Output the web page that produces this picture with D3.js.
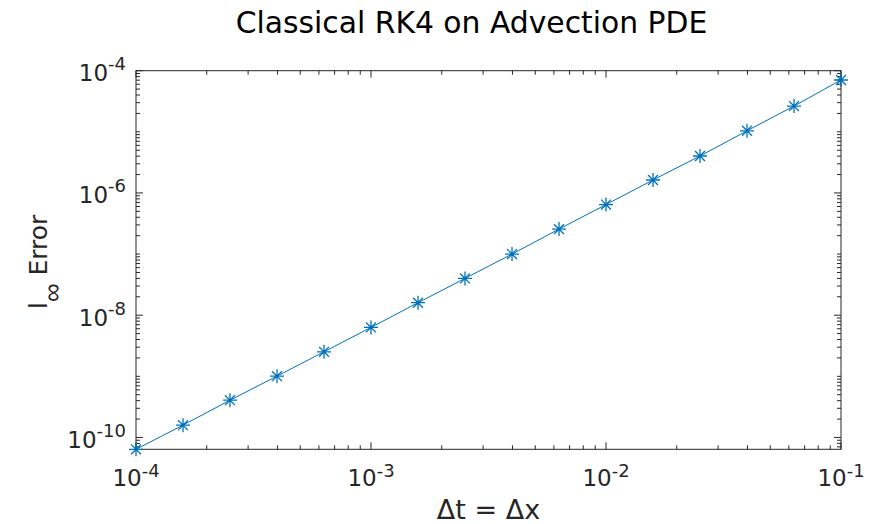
<!DOCTYPE html>
<html>
<head>
<meta charset="utf-8">
<script src="https://cdn.jsdelivr.net/npm/d3@7"></script>
<style>
  html, body { margin: 0; padding: 0; background: #fff; }
  svg { display: block; font-family: "DejaVu Sans", sans-serif; }
</style>
</head>
<body>
<svg id="chart" width="887" height="524"></svg>
<script>
// ---- data ----
const dtValues = [1e-4, 1.585e-4, 2.512e-4, 3.981e-4, 6.310e-4,
                  1e-3, 1.585e-3, 2.512e-3, 3.981e-3, 6.310e-3,
                  1e-2, 1.585e-2, 2.512e-2, 3.981e-2, 6.310e-2, 1e-1];
const errValues = [6.4e-11, 1.59e-10, 4.07e-10, 1.007e-9, 2.52e-9,
                   6.31e-9, 1.60e-8, 4.00e-8, 1.00e-7, 2.56e-7,
                   6.46e-7, 1.63e-6, 4.02e-6, 1.04e-5, 2.64e-5, 7.05e-5];
const xTickExps = [-4, -3, -2, -1];
const yTickExps = [-10, -8, -6, -4];
const yUpper = 1e-4;
const titleText = "Classical RK4 on Advection PDE";
const xLabelText = "\u0394t = \u0394x";

// ---- layout ----
const svg = d3.select("#chart");
const L = 136, R = 841, T = 70.7, B = 449.3;
const axisColor = "#262626";
const lineColor = "#0072BD";

const x = d3.scaleLog().domain([d3.min(dtValues), d3.max(dtValues)]).range([L, R]);
const y = d3.scaleLog().domain([d3.min(errValues), yUpper]).range([B, T]);

function minorTicks(scale, lo, hi) {
  const out = [];
  const [d0, d1] = scale.domain();
  for (let e = lo; e <= hi; e++) {
    for (let m = 1; m <= 9; m++) {
      const v = m * Math.pow(10, e);
      if (v >= d0 * 0.9999 && v <= d1 * 1.0001) out.push(v);
    }
  }
  return out;
}
const xMajor = xTickExps.map(e => Math.pow(10, e));
const yMajor = yTickExps.map(e => Math.pow(10, e));
const xMinor = minorTicks(x, -5, -1).filter(v => !xMajor.some(m => Math.abs(m - v) / v < 1e-6));
const yMinor = minorTicks(y, -11, -4).filter(v => !yMajor.some(m => Math.abs(m - v) / v < 1e-6));

const g = svg.append("g");
const majLen = 7, minLen = 4;

function drawXTicks(vals, len) {
  vals.forEach(v => {
    const px = x(v);
    g.append("line").attr("x1", px).attr("x2", px).attr("y1", B).attr("y2", B - len)
      .attr("stroke", axisColor).attr("stroke-width", 1);
    g.append("line").attr("x1", px).attr("x2", px).attr("y1", T).attr("y2", T + len)
      .attr("stroke", axisColor).attr("stroke-width", 1);
  });
}
function drawYTicks(vals, len) {
  vals.forEach(v => {
    const py = y(v);
    g.append("line").attr("x1", L).attr("x2", L + len).attr("y1", py).attr("y2", py)
      .attr("stroke", axisColor).attr("stroke-width", 1);
    g.append("line").attr("x1", R).attr("x2", R - len).attr("y1", py).attr("y2", py)
      .attr("stroke", axisColor).attr("stroke-width", 1);
  });
}
drawXTicks(xMinor, minLen);
drawXTicks(xMajor, majLen);
drawYTicks(yMinor, minLen);
drawYTicks(yMajor, majLen);

g.append("rect").attr("x", L).attr("y", T).attr("width", R - L).attr("height", B - T)
  .attr("fill", "none").attr("stroke", axisColor).attr("stroke-width", 1);

// tick labels
xTickExps.forEach(e => {
  const t = g.append("text").attr("x", x(Math.pow(10, e))).attr("y", B + 37)
    .attr("text-anchor", "middle").attr("fill", axisColor).style("font-size", "23px");
  t.append("tspan").text("10");
  t.append("tspan").attr("dy", -9.5).style("font-size", "18px").text(String(e));
});
yTickExps.forEach(e => {
  const t = g.append("text").attr("x", L - 10).attr("y", y(Math.pow(10, e)) + 10.5)
    .attr("text-anchor", "end").attr("fill", axisColor).style("font-size", "23px");
  t.append("tspan").text("10");
  t.append("tspan").attr("dy", -11).style("font-size", "18px").text(String(e));
});

// data line
const line = d3.line().x((d, i) => x(dtValues[i])).y(d => y(d));
g.append("path").datum(errValues).attr("d", line)
  .attr("fill", "none").attr("stroke", lineColor).attr("stroke-width", 1);

// asterisk markers
const ms = 7;
const mk = g.append("g");
errValues.forEach((v, i) => {
  const cx = x(dtValues[i]), cy = y(v);
  const d = ms * Math.SQRT1_2;
  const p = `M${cx - ms},${cy}L${cx + ms},${cy}M${cx},${cy - ms}L${cx},${cy + ms}` +
            `M${cx - d},${cy - d}L${cx + d},${cy + d}M${cx - d},${cy + d}L${cx + d},${cy - d}`;
  mk.append("path").attr("d", p).attr("stroke", lineColor).attr("stroke-width", 1.3).attr("fill", "none");
});

// title
svg.append("text").attr("x", 471.5).attr("y", 33).attr("text-anchor", "middle")
  .attr("fill", "#000").style("font-size", "29.8px").text(titleText);

// x label
svg.append("text").attr("x", (L + R) / 2).attr("y", 519).attr("text-anchor", "middle")
  .attr("fill", axisColor).style("font-size", "27px").text(xLabelText);

// y label
const yl = svg.append("text").attr("transform", "translate(47,309) rotate(-90)")
  .attr("text-anchor", "start").attr("fill", axisColor).style("font-size", "25px");
yl.append("tspan").text("l");
yl.append("tspan").attr("dy", 14).style("font-size", "26px").style("font-weight", "300").text("\u221E");
yl.append("tspan").attr("dy", -14).text(" Error");
</script>
</body>
</html>
